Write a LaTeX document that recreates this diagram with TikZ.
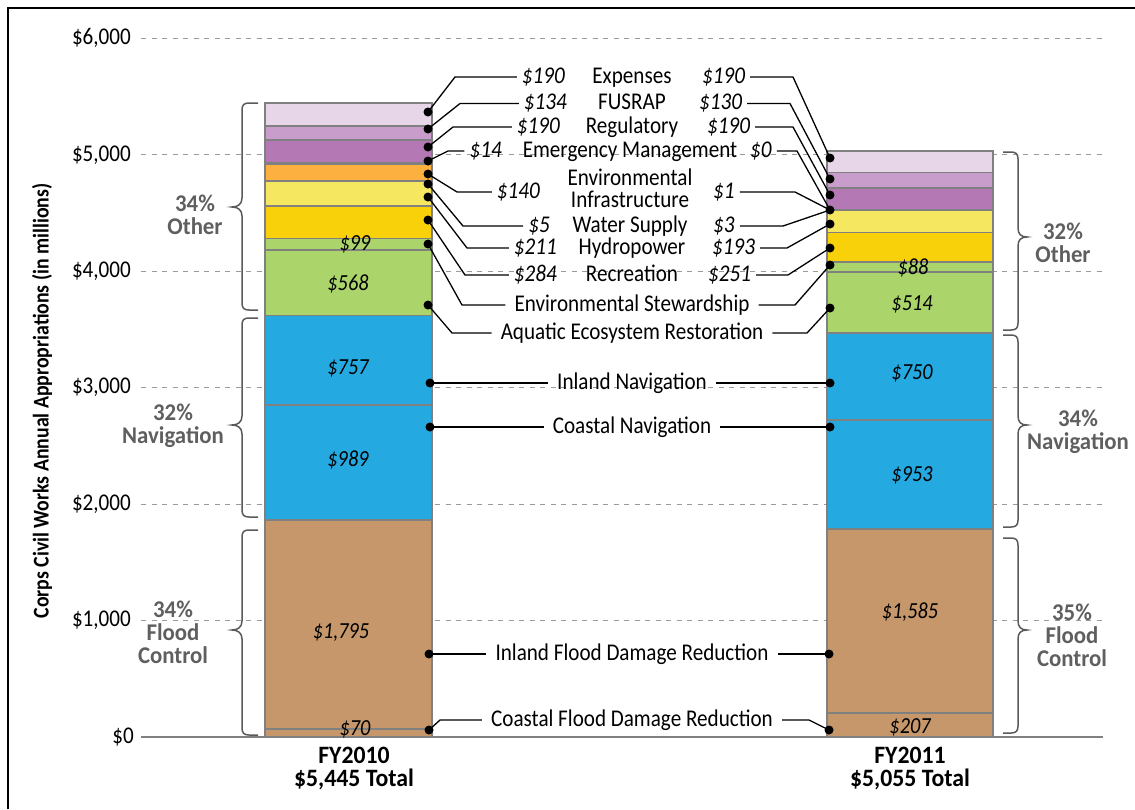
\documentclass[tikz,border=0pt]{standalone}
\usepackage{fontspec}
\setmainfont{Carlito}[FakeStretch=0.88]
\newfontfamily\bfam{Carlito}[FakeStretch=0.95]
\definecolor{cExp}{HTML}{E7D6E8}
\definecolor{cFus}{HTML}{C99DCB}
\definecolor{cReg}{HTML}{B479B4}
\definecolor{cEmg}{HTML}{8E5F93}
\definecolor{cEnv}{HTML}{FBB040}
\definecolor{cHyd}{HTML}{F5E75F}
\definecolor{cRec}{HTML}{F8D10A}
\definecolor{cGrn}{HTML}{ABD46A}
\definecolor{cBlu}{HTML}{24A9E1}
\definecolor{cTan}{HTML}{C5976B}
\definecolor{cGrid}{HTML}{9A9A9A}
\definecolor{cSeg}{HTML}{808080}
\definecolor{cPct}{HTML}{5F5F5F}
\definecolor{cBrace}{HTML}{5A5A5A}
\newcommand\mylbr[3]{\draw[brc] (258,#1) -- (249,#1) .. controls (244,#1) and (242,{#1+2}) .. (242,{#1+7}) -- (242,{#2-9}) .. controls (242,{#2-3}) and (238,#2) .. (232,#2) .. controls (238,#2) and (242,{#2+3}) .. (242,{#2+9}) -- (242,{#3-7}) .. controls (242,{#3-2}) and (244,#3) .. (249,#3) -- (258,#3);}
\newcommand\myrbr[3]{\draw[brc] (1003,#1) -- (1011,#1) .. controls (1016,#1) and (1018,{#1+2}) .. (1018,{#1+7}) -- (1018,{#2-9}) .. controls (1018,{#2-3}) and (1021,#2) .. (1027,#2) .. controls (1021,#2) and (1018,{#2+3}) .. (1018,{#2+9}) -- (1018,{#3-7}) .. controls (1018,{#3-2}) and (1016,#3) .. (1011,#3) -- (1003,#3);}
\begin{document}
\begin{tikzpicture}[x=1pt,y=-1pt,
  gridln/.style={cGrid,line width=1.2pt,dash pattern=on 5pt off 5.5pt},
  seg/.style={draw=cSeg,line width=1.2pt},
  ticklbl/.style={anchor=east,font=\fontsize{24}{24}\selectfont,inner sep=0pt},
  cat/.style={font=\fontsize{24}{22}\selectfont,inner sep=0pt,text height=17pt,text depth=5pt},
  cat2/.style={font=\fontsize{24}{22}\selectfont,inner sep=0pt,align=center},
  valL/.style={anchor=east,font=\fontsize{24}{24}\selectfont\itshape,inner sep=0pt,text height=17pt,text depth=5pt},
  valR/.style={anchor=west,font=\fontsize{24}{24}\selectfont\itshape,inner sep=0pt,text height=17pt,text depth=5pt},
  barval/.style={font=\fontsize{23}{23}\selectfont\itshape,inner sep=0pt},
  pct/.style={font=\bfam\bfseries\fontsize{24}{23}\selectfont,text=cPct,align=center,inner sep=0pt},
  brc/.style={draw=cBrace,line width=1.5pt},
  lead/.style={draw=black,line width=1.3pt,shorten >=5pt},
  leadc/.style={draw=black,line width=1.3pt,shorten >=9pt},
  dotn/.style={circle,fill=black,inner sep=0pt,minimum size=9pt},
  foot/.style={font=\bfam\bfseries\fontsize{25}{23}\selectfont,align=center,inner sep=0pt},
]
\useasboundingbox (0,0) rectangle (1135,809);
\fill[white] (0,0) rectangle (1135,809);
\draw[line width=2.4pt] (8,809) -- (8,8) -- (1135,8);

% tick labels
\node[ticklbl] (t6) at (131,38.3) {\$6,000};
\node[ticklbl] (t5) at (131,154.75) {\$5,000};
\node[ticklbl] (t4) at (131,271.2) {\$4,000};
\node[ticklbl] (t3) at (131,387.65) {\$3,000};
\node[ticklbl] (t2) at (131,504.1) {\$2,000};
\node[ticklbl] (t1) at (131,620.55) {\$1,000};
\node[ticklbl] (t0) at (134,737) {\$0};

% gridlines
\draw[gridln] (141,38.3) -- (1103,38.3);
\draw[gridln] (141,154.75) -- (1103,154.75);
\draw[gridln] (141,271.2) -- (1103,271.2);
\draw[gridln] (141,387.65) -- (1103,387.65);
\draw[gridln] (141,504.1) -- (1103,504.1);
\draw[gridln] (141,620.55) -- (1103,620.55);
\draw[cSeg,line width=1.6pt] (141,737) -- (1103,737);

% left bar FY2010
\path[seg,fill=cTan] (265,729) rectangle (432,737);
\path[seg,fill=cTan] (265,520) rectangle (432,729);
\path[seg,fill=cBlu] (265,405) rectangle (432,520);
\path[seg,fill=cBlu] (265,315.5) rectangle (432,405);
\path[seg,fill=cGrn] (265,250) rectangle (432,315.5);
\path[seg,fill=cGrn] (265,238.5) rectangle (432,250);
\path[seg,fill=cRec] (265,206) rectangle (432,238.5);
\path[seg,fill=cHyd] (265,181) rectangle (432,206);
\path[seg,fill=cEnv] (265,164) rectangle (432,181);
\path[seg,fill=cEmg] (265,162.5) rectangle (432,164);
\path[seg,fill=cReg] (265,140) rectangle (432,162.5);
\path[seg,fill=cFus] (265,126) rectangle (432,140);
\path[seg,fill=cExp] (265,103) rectangle (432,126);

% right bar FY2011
\path[seg,fill=cTan] (827,713) rectangle (993,737);
\path[seg,fill=cTan] (827,529) rectangle (993,713);
\path[seg,fill=cBlu] (827,420) rectangle (993,529);
\path[seg,fill=cBlu] (827,333) rectangle (993,420);
\path[seg,fill=cGrn] (827,272) rectangle (993,333);
\path[seg,fill=cGrn] (827,262) rectangle (993,272);
\path[seg,fill=cRec] (827,232.5) rectangle (993,262);
\path[seg,fill=cHyd] (827,210) rectangle (993,232.5);
\path[seg,fill=cReg] (827,188) rectangle (993,210);
\path[seg,fill=cFus] (827,172.5) rectangle (993,188);
\path[seg,fill=cExp] (827,151) rectangle (993,172.5);

% values inside bars
\node[barval] (b99) at (355,244) {\$99};
\node[barval] (b568) at (348,284) {\$568};
\node[barval] (b757) at (348,368) {\$757};
\node[barval] (b989) at (348,460) {\$989};
\node[barval] (b1795) at (341,633) {\$1,795};
\node[barval] (b70) at (355,729) {\$70};
\node[barval] (b88) at (913,268) {\$88};
\node[barval] (b514) at (912,304) {\$514};
\node[barval] (b750) at (912,373) {\$750};
\node[barval] (b953) at (912,475) {\$953};
\node[barval] (b1585) at (910,612) {\$1,585};
\node[barval] (b207) at (910,727) {\$207};

% braces
\mylbr{103}{207}{310}
\mylbr{318}{425}{517}
\mylbr{530}{630}{735}
\myrbr{152}{237}{330}
\myrbr{335}{425}{527}
\myrbr{538}{630}{733}

% percent labels
\node[pct] (pL1) at (195,215) {34\%\\Other};
\node[pct] (pL2) at (173,426) {32\%\\Navigation};
\node[pct] (pL3) at (173,632) {34\%\\Flood\\Control};
\node[pct] (pR1) at (1063,243) {32\%\\Other};
\node[pct] (pR2) at (1078,432) {34\%\\Navigation};
\node[pct] (pR3) at (1072,635) {35\%\\Flood\\Control};

% axis title and bar captions
\node[rotate=90,font=\fontsize{22.5}{22.5}\selectfont\bfseries,inner sep=0pt] (ytitle) at (42,401) {Corps Civil Works Annual Appropriations (in millions)};
\node[foot] (fy10) at (354,768) {FY2010\\\$5,445 Total};
\node[foot] (fy11) at (910,768) {FY2011\\\$5,055 Total};

% category labels
\node[cat] (nExp) at (632,77) {Expenses};
\node[cat] (nFus) at (632,103.5) {FUSRAP};
\node[cat] (nReg) at (632,127) {Regulatory};
\node[cat] (nEmg) at (630,151) {Emergency Management};
\node[cat2] (nEnv) at (630,188) {Environmental\\Infrastructure};
\node[cat] (nWS) at (630,226) {Water Supply};
\node[cat] (nHyd) at (632,248) {Hydropower};
\node[cat] (nRec) at (632,275) {Recreation};
\node[cat] (nStew) at (632,305) {Environmental Stewardship};
\node[cat] (nAq) at (632,333) {Aquatic Ecosystem Restoration};
\node[cat] (nInNav) at (632,383) {Inland Navigation};
\node[cat] (nCoNav) at (632,427) {Coastal Navigation};
\node[cat] (nInFl) at (632,654) {Inland Flood Damage Reduction};
\node[cat] (nCoFl) at (632,720) {Coastal Flood Damage Reduction};

% FY2010 values
\node[valL] (lExp) at (565,77) {\$190};
\node[valL] (lFus) at (567,103.5) {\$134};
\node[valL] (lReg) at (560,127) {\$190};
\node[valL] (lEmg) at (502,151) {\$14};
\node[valL] (lEnv) at (540,192) {\$140};
\node[valL] (lWS) at (550,226) {\$5};
\node[valL] (lHyd) at (557,248) {\$211};
\node[valL] (lRec) at (557,275) {\$284};
% FY2011 values
\node[valR] (rExp) at (702,77) {\$190};
\node[valR] (rFus) at (699,103.5) {\$130};
\node[valR] (rReg) at (707,127) {\$190};
\node[valR] (rEmg) at (750,151) {\$0};
\node[valR] (rEnv) at (713,192) {\$1};
\node[valR] (rWS) at (713,226) {\$3};
\node[valR] (rHyd) at (712,248) {\$193};
\node[valR] (rRec) at (708,275) {\$251};

% dots FY2010
\node[dotn] (dlExp) at (428,112) {};
\node[dotn] (dlFus) at (428,129) {};
\node[dotn] (dlReg) at (428,147) {};
\node[dotn] (dlEmg) at (428,161) {};
\node[dotn] (dlEnv) at (428,174) {};
\node[dotn] (dlWS) at (428,184) {};
\node[dotn] (dlHyd) at (428,197) {};
\node[dotn] (dlRec) at (428,220) {};
\node[dotn] (dlStew) at (428,244) {};
\node[dotn] (dlAq) at (428,305) {};
\node[dotn] (dlInNav) at (430,383) {};
\node[dotn] (dlCoNav) at (430,427) {};
\node[dotn] (dlInFl) at (429,654) {};
\node[dotn] (dlCoFl) at (429,730) {};
% dots FY2011
\node[dotn] (drExp) at (830,158) {};
\node[dotn] (drFus) at (830,179) {};
\node[dotn] (drReg) at (830,195) {};
\node[dotn] (drSmall) at (830,210) {};
\node[dotn] (drHyd) at (830,224) {};
\node[dotn] (drRec) at (830,248) {};
\node[dotn] (drStew) at (830,265) {};
\node[dotn] (drAq) at (830,308) {};
\node[dotn] (drInNav) at (830,383) {};
\node[dotn] (drCoNav) at (830,427) {};
\node[dotn] (drInFl) at (829,654) {};
\node[dotn] (drCoFl) at (829,730) {};

% leaders FY2010
\draw[lead] (dlExp.center) -- (455,77) -- (lExp.west);
\draw[lead] (dlFus.center) -- (460,103.5) -- (lFus.west);
\draw[lead] (dlReg.center) -- (453,127) -- (lReg.west);
\draw[lead] (dlEmg.center) -- (448,151) -- (lEmg.west);
\draw[lead] (dlEnv.center) -- (457,192) -- (lEnv.west);
\draw[lead] (dlWS.center) -- (463,226) -- (lWS.west);
\draw[lead] (dlHyd.center) -- (467,248) -- (lHyd.west);
\draw[lead] (dlRec.center) -- (465,275) -- (lRec.west);
\draw[leadc] (dlStew.center) -- (462,305) -- (nStew.west);
\draw[leadc] (dlAq.center) -- (452,333) -- (nAq.west);
\draw[leadc] (dlInNav.center) -- (nInNav.west);
\draw[leadc] (dlCoNav.center) -- (nCoNav.west);
\draw[leadc] (dlInFl.center) -- (nInFl.west);
\draw[leadc] (dlCoFl.center) -- (440,720) -- (nCoFl.west);
% leaders FY2011
\draw[lead] (drExp.center) -- (793,77) -- (rExp.east);
\draw[lead] (drFus.center) -- (790,103.5) -- (rFus.east);
\draw[lead] (drReg.center) -- (793,127) -- (rReg.east);
\draw[lead] (drSmall.center) -- (797,151) -- (rEmg.east);
\draw[lead] (drSmall.center) -- (795,192) -- (rEnv.east);
\draw[lead] (drSmall.center) -- (783,226) -- (rWS.east);
\draw[lead] (drHyd.center) -- (787,248) -- (rHyd.east);
\draw[lead] (drRec.center) -- (788,275) -- (rRec.east);
\draw[leadc] (drStew.center) -- (795,305) -- (nStew.east);
\draw[leadc] (drAq.center) -- (807,333) -- (nAq.east);
\draw[leadc] (drInNav.center) -- (nInNav.east);
\draw[leadc] (drCoNav.center) -- (nCoNav.east);
\draw[leadc] (drInFl.center) -- (nInFl.east);
\draw[leadc] (drCoFl.center) -- (809,720) -- (nCoFl.east);
\end{tikzpicture}
\end{document}
